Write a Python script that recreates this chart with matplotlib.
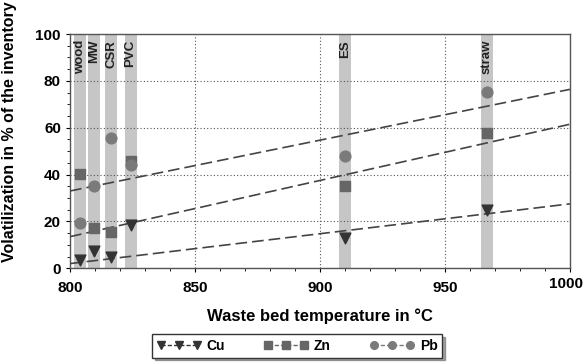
import numpy as np
import matplotlib.pyplot as plt
import matplotlib.transforms as mtransforms
from matplotlib.ticker import MultipleLocator

# waste fuels: band centre temperature (°C)
fuels = ["wood", "MW", "CSR", "PVC", "ES", "straw"]
fuel_temp = [804, 809.5, 816.4, 824.2, 910, 966.7]

# measured volatilization (% of inventory)
cu = [3.5, 7.4, 4.7, 18.5, 12.8, 24.9]
zn = [40.2, 17.1, 15.6, 46.0, 35.3, 57.6]
pb = [19.5, 35.3, 55.5, 44.0, 47.9, 75.1]

# dashed trend lines (end points)
trend_t = [800, 1000]
cu_trend = [2.0, 27.5]
zn_trend = [13.5, 61.5]
pb_trend = [33.0, 76.4]

x_ticks = [800, 850, 900, 950, 1000]
y_ticks = [0, 20, 40, 60, 80, 100]

plt.rcParams["font.family"] = "Liberation Sans"

fig = plt.figure(figsize=(5.85, 3.64), dpi=100)
ax = fig.add_axes([0.1197, 0.263, 0.8545, 0.6434])

band_w = 4.8
for name, t in zip(fuels, fuel_temp):
    ax.axvspan(t - band_w / 2, t + band_w / 2, color="#c6c6c6", zorder=1, lw=0)
    ax.text(t, 97.5, name, rotation=90, ha="center", va="top",
            fontsize=9.5, fontweight="bold", color="#222222", zorder=5)

ax.grid(True, linestyle=(0, (1, 2)), color="#555555", lw=0.8, zorder=2)

ax.plot(trend_t, cu_trend, ls=(0, (7, 3)), color="#444444", lw=1.2, zorder=3)
ax.plot(trend_t, zn_trend, ls=(0, (7, 3)), color="#444444", lw=1.2, zorder=3)
ax.plot(trend_t, pb_trend, ls=(0, (7, 3)), color="#444444", lw=1.2, zorder=3)

ax.scatter(fuel_temp, cu, marker="v", s=60, color="#333333", zorder=4)
ax.scatter(fuel_temp, zn, marker="s", s=55, color="#666666", zorder=4)
ax.scatter(fuel_temp, pb, marker="o", s=60, color="#7a7a7a", zorder=4)

ax.set_xlim(800, 1000)
ax.set_ylim(0, 100)
# last x label is drawn by hand so it stays inside the picture
ax.set_xticks(x_ticks, [str(v) for v in x_ticks[:-1]] + [""])
ax.set_yticks(y_ticks)
ax.xaxis.set_minor_locator(MultipleLocator(10))
ax.yaxis.set_minor_locator(MultipleLocator(5))
ax.tick_params(axis="both", which="major", labelsize=11, length=3, width=0.8)
ax.tick_params(axis="x", which="major", pad=6)
ax.tick_params(axis="both", which="minor", length=2, width=0.6)
for lab in ax.get_xticklabels() + ax.get_yticklabels():
    lab.set_fontweight("bold")
trans = mtransforms.offset_copy(ax.get_xaxis_transform(), fig=fig, x=13, y=-9, units="dots")
ax.text(x_ticks[-1], 0, str(x_ticks[-1]), transform=trans, ha="right", va="top",
        fontsize=11, fontweight="bold")
for s in ax.spines.values():
    s.set_color("#555555")
    s.set_linewidth(1.0)

ax.set_xlabel("Waste bed temperature in °C", fontsize=12, fontweight="bold")
ax.xaxis.set_label_coords(0.5, -0.17)
ax.set_ylabel("Volatilization in % of the inventory", fontsize=11.5, fontweight="bold")
ax.yaxis.set_label_coords(-0.107, 0.585)

# legend handles
h_cu, = ax.plot([], [], ls=(0, (3, 1.5)), marker="v", color="#333333", ms=5.5, lw=1)
h_zn, = ax.plot([], [], ls=(0, (3, 1.5)), marker="s", color="#666666", ms=5.5, lw=1)
h_pb, = ax.plot([], [], ls=(0, (3, 1.5)), marker="o", color="#7a7a7a", ms=5.5, lw=1)
leg = fig.legend([h_cu, h_zn, h_pb], ["Cu", "Zn", "Pb"], ncol=3,
                 loc="center", bbox_to_anchor=(0.508, 0.05), frameon=True,
                 fancybox=False, shadow=True,
                 handlelength=3.2, columnspacing=2.8, borderpad=0.35,
                 handletextpad=0.4,
                 prop={"weight": "bold", "size": 10}, numpoints=3)
leg.get_frame().set_edgecolor("#333333")

fig.savefig("out.png", dpi=100, facecolor="white")
